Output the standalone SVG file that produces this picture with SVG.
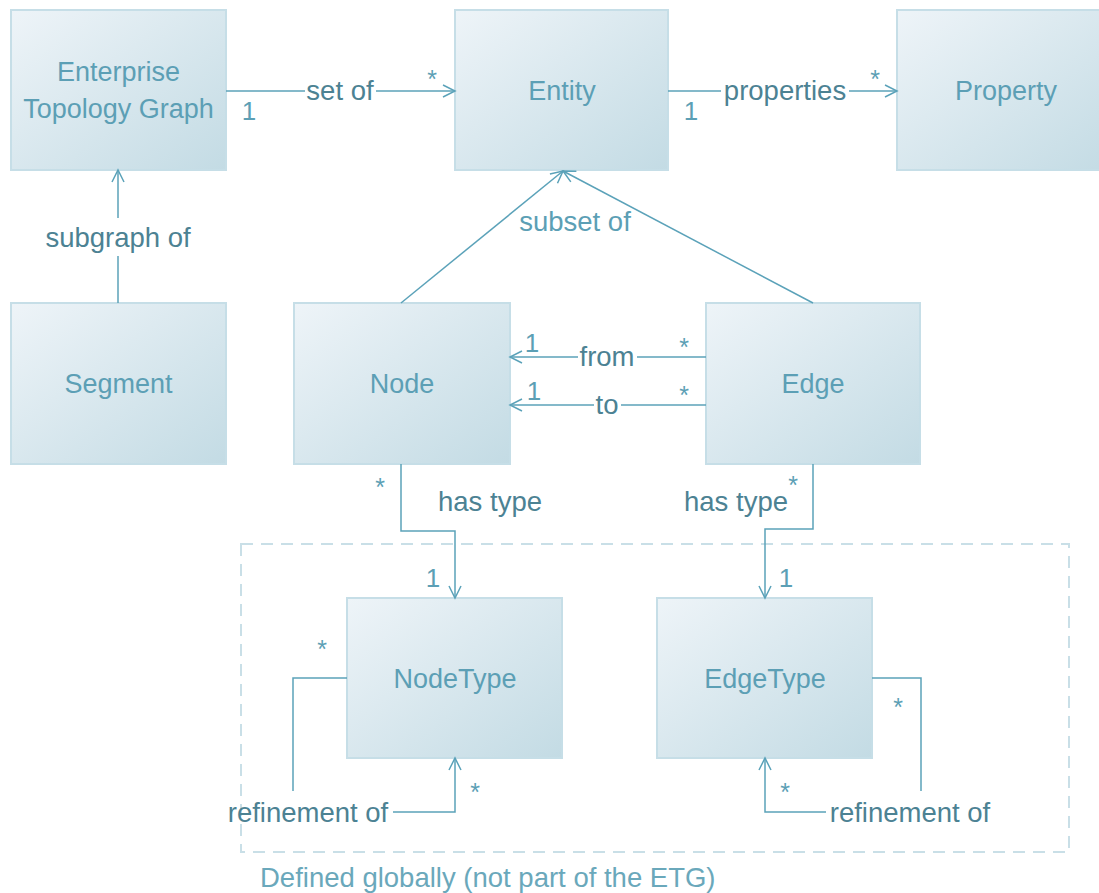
<svg xmlns="http://www.w3.org/2000/svg" width="1099" height="893" viewBox="0 0 1099 893">
  <defs>
    <linearGradient id="boxFill" x1="0" y1="0" x2="1" y2="1">
      <stop offset="0" stop-color="#EEF4F8"/>
      <stop offset="1" stop-color="#C3DBE4"/>
    </linearGradient>
    <marker id="open" markerUnits="userSpaceOnUse" markerWidth="16" markerHeight="16" refX="13" refY="7" orient="auto">
      <path d="M1,1 L13,7 L1,13" fill="none" stroke="#5BA2B9" stroke-width="1.5"/>
    </marker>
  </defs>
  <style>
    .box { fill: url(#boxFill); stroke: #C6DEE7; stroke-width: 2; }
    .name { font-family: "Liberation Sans", Arial, sans-serif; font-size: 27px; fill: #5C9FB5; text-anchor: middle; }
    .lbl { font-family: "Liberation Sans", Arial, sans-serif; font-size: 27.5px; fill: #4C8293; text-anchor: middle; }
    .lbl2 { font-family: "Liberation Sans", Arial, sans-serif; font-size: 27.5px; fill: #5C9FB5; text-anchor: middle; }
    .one { font-family: "Liberation Sans", Arial, sans-serif; font-size: 26px; fill: #5C9FB5; text-anchor: middle; }
    .star { font-family: "Liberation Sans", Arial, sans-serif; font-size: 25px; fill: #5C9FB5; text-anchor: middle; }
    .ln { fill: none; stroke: #5BA2B9; stroke-width: 1.5; }
    .arr { marker-end: url(#open); }
    .frame { fill: none; stroke: #C9DFE7; stroke-width: 2; stroke-dasharray: 12 8; }
  </style>

  <rect id="background" x="0" y="0" width="1099" height="893" fill="#FFFFFF"/>

  <!-- globally defined region -->
  <g id="global-frame">
    <rect class="frame" x="241" y="544" width="828" height="308"/>
    <text x="260" y="887" font-family="Liberation Sans, Arial, sans-serif" font-size="27.5" fill="#6AA8BB">Defined globally (not part of the ETG)</text>
  </g>

  <!-- nodes -->
  <g id="etg">
    <rect class="box" x="11" y="10" width="215" height="160"/>
    <text class="name" x="118.5" y="81">Enterprise</text>
    <text class="name" x="118.5" y="118">Topology Graph</text>
  </g>
  <g id="entity">
    <rect class="box" x="455" y="10" width="213" height="160"/>
    <text class="name" x="562" y="100">Entity</text>
  </g>
  <g id="property">
    <rect class="box" x="897" y="10" width="215" height="160"/>
    <text class="name" x="1006" y="100">Property</text>
  </g>
  <g id="segment">
    <rect class="box" x="11" y="303" width="215" height="161"/>
    <text class="name" x="118.5" y="393">Segment</text>
  </g>
  <g id="node">
    <rect class="box" x="294" y="303" width="216" height="161"/>
    <text class="name" x="402" y="393">Node</text>
  </g>
  <g id="edge">
    <rect class="box" x="706" y="303" width="214" height="161"/>
    <text class="name" x="813" y="393">Edge</text>
  </g>
  <g id="nodetype">
    <rect class="box" x="347" y="598" width="215" height="160"/>
    <text class="name" x="455" y="688">NodeType</text>
  </g>
  <g id="edgetype">
    <rect class="box" x="657" y="598" width="215" height="160"/>
    <text class="name" x="765" y="688">EdgeType</text>
  </g>

  <!-- connectors -->
  <g id="connectors">
    <!-- ETG set of Entity -->
    <path class="ln" d="M226,91 H305"/>
    <path class="ln arr" d="M376,91 H455"/>
    <text class="lbl" x="340" y="100">set of</text>
    <text class="one" x="249" y="120">1</text>
    <text class="star" x="432" y="88">*</text>

    <!-- Entity properties Property -->
    <path class="ln" d="M668,91 H721"/>
    <path class="ln arr" d="M849,91 H897"/>
    <text class="lbl" x="785" y="100">properties</text>
    <text class="one" x="691" y="120">1</text>
    <text class="star" x="875" y="88">*</text>

    <!-- Segment subgraph of ETG -->
    <path class="ln" d="M118,303 V256"/>
    <path class="ln arr" d="M118,218 V170"/>
    <text class="lbl" x="118" y="247">subgraph of</text>

    <!-- Node / Edge subset of Entity -->
    <path class="ln arr" d="M401,303 L563,171"/>
    <path class="ln arr" d="M813,303 L563,171"/>
    <text class="lbl2" x="575" y="231">subset of</text>

    <!-- Edge from Node -->
    <path class="ln" d="M706,357 H637"/>
    <path class="ln arr" d="M578,357 H510"/>
    <text class="lbl" x="607" y="366">from</text>
    <text class="one" x="532" y="352">1</text>
    <text class="star" x="684" y="356">*</text>

    <!-- Edge to Node -->
    <path class="ln" d="M706,405 H621"/>
    <path class="ln arr" d="M594,405 H510"/>
    <text class="lbl" x="607" y="414">to</text>
    <text class="one" x="534" y="400">1</text>
    <text class="star" x="684" y="404">*</text>

    <!-- Node has type NodeType -->
    <path class="ln arr" d="M401,464 V531 H455 V598"/>
    <text class="lbl" x="490" y="511">has type</text>
    <text class="star" x="380" y="496">*</text>
    <text class="one" x="433" y="587">1</text>

    <!-- Edge has type EdgeType -->
    <path class="ln arr" d="M813,464 V529 H765 V598"/>
    <text class="lbl" x="736" y="511">has type</text>
    <text class="star" x="793" y="494">*</text>
    <text class="one" x="786" y="587">1</text>

    <!-- NodeType refinement of NodeType -->
    <path class="ln" d="M347,678 H293 V791"/>
    <path class="ln arr" d="M393,812 H455 V758"/>
    <text class="lbl" x="308" y="822">refinement of</text>
    <text class="star" x="322" y="658">*</text>
    <text class="star" x="475" y="801">*</text>

    <!-- EdgeType refinement of EdgeType -->
    <path class="ln" d="M872,678 H921 V791"/>
    <path class="ln arr" d="M826,812 H765 V758"/>
    <text class="lbl" x="910" y="822">refinement of</text>
    <text class="star" x="898" y="716">*</text>
    <text class="star" x="785" y="801">*</text>
  </g>
</svg>
